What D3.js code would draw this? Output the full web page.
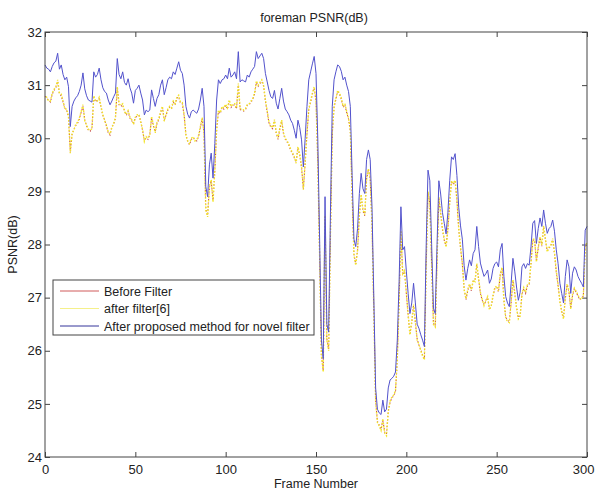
<!DOCTYPE html>
<html><head><meta charset="utf-8">
<script src="https://cdn.jsdelivr.net/npm/d3@7/dist/d3.min.js"></script>
<style>
html,body{margin:0;padding:0;background:#fff;}
svg text{font-family:"Liberation Sans",Arial,Helvetica,sans-serif;fill:#222;}
</style></head>
<body>
<svg id="chart" width="595" height="491"></svg>
<script>
// ---- data (frame index = array position, 0..300) ----
const title = "foreman PSNR(dB)";
const xLabel = "Frame Number";
const yLabel = "PSNR(dB)";
const xTicks = [0, 50, 100, 150, 200, 250, 300];
const yTicks = [24, 25, 26, 27, 28, 29, 30, 31, 32];
const seriesNames = ["Before Filter", "after filter[6]", "After proposed method for novel filter"];

const proposed = [
31.38,31.32,31.30,31.25,31.35,31.42,31.45,31.60,31.30,31.38,
31.20,31.10,31.15,30.97,30.22,30.60,30.70,30.76,30.80,30.88,
31.00,31.23,30.93,30.80,30.72,30.70,30.68,31.25,31.15,31.20,
31.32,31.10,30.95,30.88,30.85,30.72,30.63,30.70,30.78,30.85,
31.50,31.20,31.12,31.25,31.05,31.00,31.12,30.95,30.85,30.66,
30.90,30.94,31.00,30.85,30.72,30.44,30.53,30.50,30.53,30.91,
30.75,30.60,30.75,30.82,31.00,31.10,30.82,30.95,31.10,31.15,
31.12,31.25,31.20,31.32,31.44,31.28,31.22,31.00,30.60,30.45,
30.38,30.50,30.53,30.50,30.47,30.55,30.72,30.94,30.60,29.09,
28.90,29.50,29.72,29.25,29.90,30.72,31.10,31.03,31.10,31.12,
31.19,31.12,31.32,31.15,31.19,31.25,31.12,31.63,31.06,31.10,
31.08,31.06,31.19,31.15,31.25,31.30,31.35,31.63,31.50,31.55,
31.60,31.50,31.22,31.06,30.90,30.78,30.75,30.90,30.66,30.55,
30.75,30.94,30.70,30.55,30.50,30.44,30.34,30.28,30.15,30.00,
30.34,30.20,29.97,29.46,30.00,30.60,31.10,31.25,31.40,31.54,
31.22,29.97,28.10,26.20,25.85,28.90,26.50,26.35,28.60,30.60,
31.10,31.25,31.38,31.35,31.26,31.10,31.15,31.00,30.88,30.60,
29.30,28.10,27.96,28.30,28.96,29.34,29.05,28.96,29.60,29.78,
29.60,28.70,27.00,25.30,24.90,24.83,24.80,25.07,24.85,24.90,
25.30,25.45,25.48,25.52,25.60,26.20,27.30,28.71,27.90,27.96,
27.50,27.08,26.70,26.90,27.27,26.90,26.50,26.42,26.30,26.20,
26.08,28.00,29.40,29.20,28.00,26.80,26.70,28.00,29.20,28.95,
28.60,28.40,28.20,28.60,29.20,29.65,29.60,29.71,29.30,28.70,
28.35,28.10,27.60,27.33,27.55,27.71,27.60,27.83,27.90,28.34,
27.96,27.65,27.52,27.40,27.45,27.52,27.27,27.35,27.55,27.64,
27.67,27.58,27.90,28.02,27.40,27.02,26.90,26.83,27.27,27.74,
27.50,27.20,26.95,27.10,27.58,27.64,27.55,27.64,27.61,27.96,
28.40,28.45,28.02,28.30,28.50,28.34,28.65,28.40,28.21,28.30,
28.34,28.46,28.25,27.90,27.64,27.27,27.08,26.90,27.40,27.71,
27.58,27.08,27.46,27.58,27.52,27.40,27.33,27.27,27.20,28.27,
28.34];

const afterFilter6 = [
30.81,30.77,30.70,30.70,30.85,30.92,30.97,31.10,30.85,30.83,
30.70,30.55,30.55,30.42,29.72,30.10,30.15,30.26,30.30,30.38,
30.50,30.63,30.33,30.25,30.17,30.15,30.18,30.80,30.70,30.70,
30.77,30.60,30.45,30.33,30.25,30.12,30.08,30.20,30.28,30.40,
30.97,30.65,30.62,30.65,30.50,30.45,30.52,30.40,30.35,30.26,
30.40,30.44,30.45,30.30,30.17,29.94,30.03,30.00,30.05,30.41,
30.25,30.10,30.30,30.37,30.50,30.60,30.32,30.45,30.55,30.60,
30.57,30.70,30.65,30.77,30.81,30.68,30.67,30.45,30.05,29.95,
29.90,30.00,30.03,29.95,29.97,30.05,30.22,30.39,30.10,28.64,
28.52,29.10,29.22,28.80,29.40,30.17,30.53,30.48,30.60,30.57,
30.64,30.57,30.72,30.60,30.64,30.65,30.57,31.03,30.56,30.55,
30.53,30.56,30.64,30.65,30.70,30.75,30.85,31.08,31.00,31.05,
31.10,31.00,30.72,30.51,30.30,30.23,30.20,30.35,30.11,30.00,
30.20,30.34,30.10,30.00,29.95,29.89,29.79,29.73,29.65,29.53,
29.84,29.70,29.47,29.03,29.55,30.10,30.55,30.70,30.85,30.97,
30.72,29.57,27.80,25.90,25.60,28.55,26.20,26.00,28.20,30.10,
30.60,30.75,30.90,30.85,30.76,30.60,30.65,30.50,30.38,30.15,
28.95,27.80,27.61,27.90,28.56,28.94,28.65,28.56,29.25,29.43,
29.25,28.40,26.75,25.05,24.65,24.58,24.50,24.72,24.45,24.40,
24.85,25.05,25.13,25.17,25.25,25.85,26.95,28.26,27.45,27.51,
27.10,26.68,26.30,26.55,26.87,26.55,26.20,26.12,26.00,25.90,
25.83,27.65,29.00,28.80,27.65,26.50,26.45,27.70,28.90,28.60,
28.30,28.10,27.95,28.30,28.80,29.20,29.15,29.21,28.85,28.30,
27.95,27.65,27.15,26.98,27.15,27.26,27.15,27.33,27.30,27.64,
27.36,27.10,26.97,26.85,26.95,27.02,26.77,26.85,27.05,27.19,
27.22,27.13,27.45,27.57,26.95,26.62,26.55,26.53,26.92,27.34,
27.10,26.80,26.60,26.65,27.08,27.19,27.10,27.24,27.26,27.66,
28.10,28.10,27.67,27.95,28.15,27.99,28.35,28.10,27.86,27.95,
27.99,28.11,27.85,27.50,27.24,26.92,26.73,26.60,27.00,27.26,
27.13,26.78,27.06,27.18,27.12,27.05,26.98,26.97,27.05,27.97,
28.04];

const beforeFilter = [
30.79,30.75,30.72,30.68,30.83,30.90,30.95,31.07,30.83,30.80,
30.68,30.57,30.52,30.40,29.75,30.08,30.17,30.24,30.28,30.36,
30.48,30.60,30.35,30.23,30.15,30.13,30.20,30.77,30.68,30.72,
30.74,30.58,30.43,30.35,30.23,30.10,30.06,30.22,30.26,30.38,
30.94,30.63,30.60,30.63,30.52,30.43,30.50,30.38,30.33,30.28,
30.38,30.42,30.43,30.32,30.15,29.96,30.01,29.98,30.07,30.38,
30.23,30.12,30.28,30.35,30.48,30.58,30.34,30.43,30.53,30.58,
30.55,30.68,30.63,30.75,30.78,30.66,30.65,30.43,30.07,29.93,
29.88,29.98,30.01,29.97,29.95,30.03,30.20,30.37,30.12,28.67,
28.55,29.08,29.20,28.83,29.38,30.15,30.50,30.46,30.58,30.55,
30.62,30.55,30.70,30.58,30.62,30.63,30.55,31.00,30.54,30.53,
30.51,30.54,30.62,30.63,30.68,30.73,30.83,31.05,30.98,31.03,
31.07,30.98,30.70,30.49,30.28,30.21,30.18,30.33,30.09,29.98,
30.18,30.32,30.08,29.98,29.93,29.87,29.77,29.71,29.63,29.55,
29.82,29.68,29.45,29.05,29.53,30.08,30.53,30.68,30.83,30.94,
30.70,29.55,27.78,25.92,25.63,28.52,26.22,26.03,28.18,30.08,
30.58,30.73,30.88,30.83,30.74,30.58,30.63,30.48,30.36,30.13,
28.93,27.82,27.63,27.88,28.54,28.92,28.63,28.54,29.23,29.41,
29.23,28.38,26.77,25.07,24.67,24.60,24.52,24.70,24.47,24.43,
24.87,25.03,25.11,25.15,25.23,25.83,26.93,28.24,27.43,27.49,
27.08,26.66,26.32,26.53,26.85,26.53,26.22,26.10,26.02,25.92,
25.85,27.63,28.98,28.78,27.63,26.52,26.47,27.68,28.88,28.58,
28.28,28.08,27.97,28.28,28.78,29.18,29.13,29.19,28.83,28.28,
27.93,27.63,27.17,26.96,27.13,27.24,27.13,27.31,27.32,27.62,
27.34,27.08,26.95,26.87,26.93,27.00,26.79,26.83,27.03,27.17,
27.20,27.11,27.43,27.55,26.97,26.64,26.57,26.55,26.90,27.32,
27.08,26.82,26.62,26.67,27.06,27.17,27.08,27.22,27.24,27.64,
28.08,28.08,27.69,27.93,28.13,27.97,28.33,28.08,27.88,27.93,
27.97,28.09,27.83,27.48,27.22,26.94,26.75,26.62,26.98,27.24,
27.11,26.80,27.04,27.16,27.10,27.03,26.96,26.99,27.03,27.95,
28.02];

// ---- layout ----
const L = 45, R = 587, T = 32, B = 457;
const svg = d3.select("#chart");
const x = d3.scaleLinear().domain([0, 300]).range([L, R]);
const y = d3.scaleLinear().domain([24, 32]).range([B, T]);

// axes (MATLAB style, ticks inward, all four sides)
const axColor = "#444";
function styleAxis(g){
  g.select(".domain").remove();
  g.selectAll(".tick line").attr("stroke", axColor);
  g.selectAll(".tick text").attr("font-size", 13).attr("fill", "#222")
   .attr("font-family", "Liberation Sans, Arial, sans-serif");
}
const gx = svg.append("g").attr("transform", `translate(0,${B})`)
  .call(d3.axisBottom(x).tickValues(xTicks).tickSize(-5).tickPadding(8).tickFormat(d3.format("d")))
  .call(styleAxis);
// keep the last label inside the window
gx.selectAll(".tick text").filter(d => d === 300).attr("text-anchor", "end").attr("dx", 7);
svg.append("g").attr("transform", `translate(0,${T})`)
  .call(d3.axisTop(x).tickValues(xTicks).tickSize(-5).tickFormat(""))
  .call(styleAxis);
svg.append("g").attr("transform", `translate(${L},0)`)
  .call(d3.axisLeft(y).tickValues(yTicks).tickSize(-5).tickPadding(3).tickFormat(d3.format("d")))
  .call(styleAxis);
svg.append("g").attr("transform", `translate(${R},0)`)
  .call(d3.axisRight(y).tickValues(yTicks).tickSize(-5).tickFormat(""))
  .call(styleAxis);

// lines
const line = d3.line().x((d, i) => x(i)).y(d => y(d));
svg.append("path").datum(beforeFilter).attr("d", line)
  .attr("fill", "none").attr("stroke", "#c8504a").attr("stroke-width", 1.1)
  .attr("stroke-dasharray", "1.2,2.2");
svg.append("path").datum(afterFilter6).attr("d", line)
  .attr("fill", "none").attr("stroke", "#f3e42a").attr("stroke-width", 1.4)
  .attr("stroke-dasharray", "1.6,1.6").attr("stroke-dashoffset", 1.6);
svg.append("path").datum(proposed).attr("d", line)
  .attr("fill", "none").attr("stroke", "#5252cc").attr("stroke-width", 1);

// box
svg.append("rect").attr("x", L).attr("y", T).attr("width", R - L).attr("height", B - T)
  .attr("fill", "none").attr("stroke", axColor).attr("stroke-width", 1);

// title and labels
svg.append("text").attr("x", (L + R) / 2 - 2).attr("y", 22).attr("text-anchor", "middle")
  .attr("font-size", 12.5).text(title);
svg.append("text").attr("x", (L + R) / 2).attr("y", 488).attr("text-anchor", "middle")
  .attr("font-size", 12.5).text(xLabel);
svg.append("text").attr("transform", `translate(17,${(T + B) / 2}) rotate(-90)`)
  .attr("text-anchor", "middle").attr("font-size", 12.5).text(yLabel);

// legend
const lg = svg.append("g");
lg.append("rect").attr("x", 53).attr("y", 280).attr("width", 261).attr("height", 55)
  .attr("fill", "#fff").attr("stroke", axColor).attr("stroke-width", 1);
const legColors = ["#d05a5a", "#f5f08a", "#34349a"];
seriesNames.forEach((name, i) => {
  const yy = 291 + i * 17.5;
  lg.append("line").attr("x1", 60).attr("x2", 99).attr("y1", yy).attr("y2", yy)
    .attr("stroke", legColors[i]).attr("stroke-width", 1);
  lg.append("text").attr("x", 104).attr("y", yy + 4.5).attr("font-size", 12.5).text(name);
});
</script>
</body></html>
